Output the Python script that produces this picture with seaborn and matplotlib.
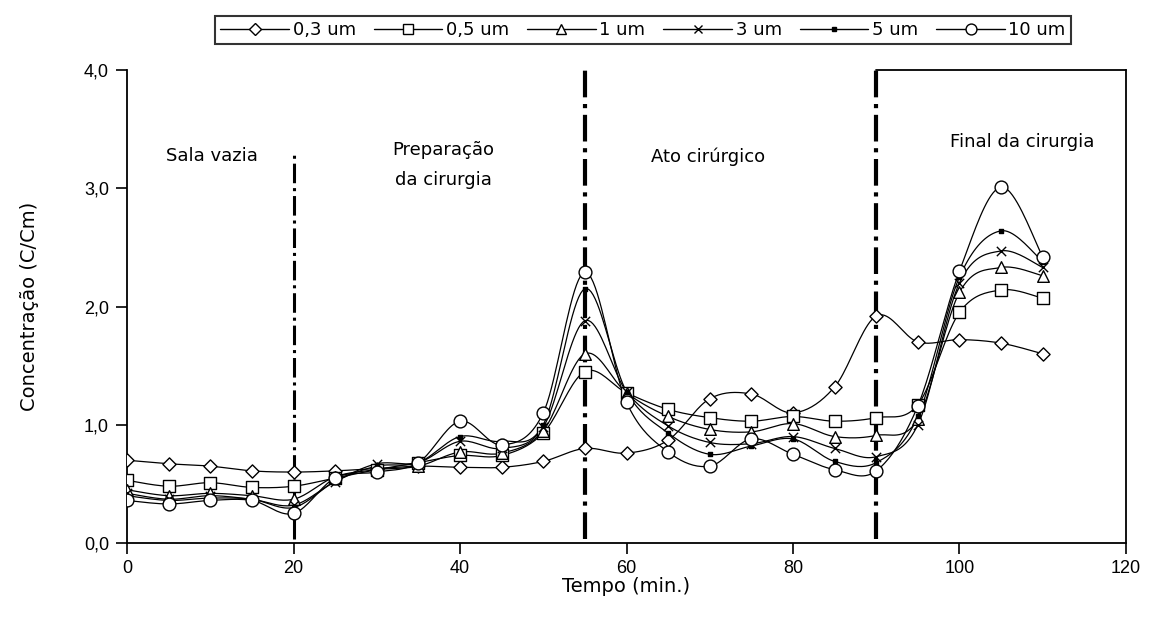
import numpy as np
import pandas as pd
import seaborn as sns
import matplotlib.pyplot as plt
from matplotlib.lines import Line2D
from matplotlib.ticker import FuncFormatter

tempo = [0, 5, 10, 15, 20, 25, 30, 35, 40, 45, 50, 55, 60, 65, 70, 75, 80, 85, 90, 95, 100, 105, 110]

um_03 = [0.70, 0.67, 0.65, 0.61, 0.60, 0.61, 0.63, 0.65, 0.64, 0.64, 0.69, 0.80, 0.76, 0.87, 1.22, 1.26, 1.10, 1.32, 1.92, 1.70, 1.72, 1.69, 1.60]
um_05 = [0.53, 0.48, 0.51, 0.47, 0.48, 0.55, 0.62, 0.68, 0.74, 0.74, 0.93, 1.45, 1.27, 1.13, 1.06, 1.03, 1.07, 1.03, 1.06, 1.17, 1.95, 2.14, 2.07]
um_1 = [0.45, 0.40, 0.42, 0.40, 0.37, 0.56, 0.62, 0.65, 0.77, 0.76, 0.95, 1.60, 1.27, 1.07, 0.96, 0.94, 1.01, 0.90, 0.91, 1.05, 2.12, 2.33, 2.26]
um_3 = [0.42, 0.37, 0.40, 0.37, 0.32, 0.52, 0.67, 0.68, 0.86, 0.80, 0.98, 1.88, 1.28, 0.99, 0.85, 0.84, 0.90, 0.80, 0.73, 1.00, 2.20, 2.47, 2.33]
um_5 = [0.40, 0.36, 0.38, 0.37, 0.30, 0.52, 0.65, 0.68, 0.90, 0.86, 1.00, 2.15, 1.28, 0.93, 0.75, 0.82, 0.88, 0.69, 0.68, 1.07, 2.25, 2.64, 2.38]
um_10 = [0.36, 0.33, 0.36, 0.36, 0.25, 0.55, 0.60, 0.68, 1.03, 0.83, 1.10, 2.29, 1.19, 0.77, 0.65, 0.88, 0.75, 0.62, 0.61, 1.16, 2.30, 3.01, 2.42]

series = ["0,3 um", "0,5 um", "1 um", "3 um", "5 um", "10 um"]
valores = [um_03, um_05, um_1, um_3, um_5, um_10]

fases = ["Sala vazia", "Preparação\nda cirurgia", "Ato cirúrgico", "Final da cirurgia"]
limites = [20, 55, 90]

sns.set_style("white")
plt.rcParams["font.family"] = ["Liberation Sans", "DejaVu Sans"]
plt.rcParams["text.color"] = "black"
plt.rcParams["axes.labelcolor"] = "black"
largo = ["DejaVu Sans"]

estilos = {
    "0,3 um": dict(marker="D", s=45, facecolor="white", edgecolor="black"),
    "0,5 um": dict(marker="s", s=70, facecolor="white", edgecolor="black"),
    "1 um": dict(marker="^", s=70, facecolor="white", edgecolor="black"),
    "3 um": dict(marker="x", s=45, color="black"),
    "5 um": dict(marker="s", s=12, facecolor="black", edgecolor="black"),
    "10 um": dict(marker="o", s=85, facecolor="white", edgecolor="black"),
}


def suavizar(x, y, n=20):
    # curva suave tipo Excel (Catmull-Rom)
    x = np.asarray(x, float)
    y = np.asarray(y, float)
    px = np.concatenate([[x[0]], x, [x[-1]]])
    py = np.concatenate([[y[0]], y, [y[-1]]])
    xs, ys = [], []
    t = np.linspace(0, 1, n, endpoint=False)
    for i in range(1, len(px) - 2):
        for p, out in ((px, xs), (py, ys)):
            p0, p1, p2, p3 = p[i - 1], p[i], p[i + 1], p[i + 2]
            out.extend(0.5 * (2 * p1 + (-p0 + p2) * t + (2 * p0 - 5 * p1 + 4 * p2 - p3) * t ** 2
                              + (-p0 + 3 * p1 - 3 * p2 + p3) * t ** 3))
    xs.append(x[-1])
    ys.append(y[-1])
    return np.array(xs), np.array(ys)


fig = plt.figure(figsize=(11.5, 6.21), dpi=100)
ax = fig.add_axes([127 / 1150, 1 - 543 / 621, 999 / 1150, 473 / 621])

for nome, vals in zip(series, valores):
    xs, ys = suavizar(tempo, vals)
    sns.lineplot(x=xs, y=ys, ax=ax, color="black", lw=0.9, sort=False, estimator=None)
    df = pd.DataFrame({"tempo": tempo, "c": vals})
    sns.scatterplot(data=df, x="tempo", y="c", ax=ax, linewidth=1.0, zorder=3, **estilos[nome])

for i, lim in enumerate(limites):
    topo = 0.82 if i == 0 else 1.0
    ax.axvline(lim, ymin=0.008, ymax=topo, color="black", ls="-.", lw=2.2 if i == 0 else 3.0, zorder=1)

pos_texto = [(10.2, 3.27), (38, 3.2), (69.8, 3.27), (107.5, 3.39)]
for txt, (xt, yt) in zip(fases, pos_texto):
    ax.text(xt, yt, txt, ha="center", va="center", fontsize=13, family=largo, linespacing=1.85)

ax.set_xlim(0, 120)
ax.set_ylim(0, 4)
ax.set_xticks(range(0, 121, 20))
ax.set_yticks(np.arange(0, 4.01, 1))
ax.yaxis.set_major_formatter(FuncFormatter(lambda v, p: f"{v:.1f}".replace(".", ",")))
ax.tick_params(axis="both", bottom=True, left=True, direction="out", length=8, width=1.2,
               labelsize=13, color="black", labelcolor="black")
ax.tick_params(axis="x", pad=4)
ax.tick_params(axis="y", pad=5)

for lado in ["left", "bottom", "right"]:
    ax.spines[lado].set_color("black")
    ax.spines[lado].set_linewidth(1.3)
ax.spines["top"].set_visible(False)
ax.axhline(4, xmin=0.75, xmax=1.0, color="black", lw=1.3, clip_on=False)

ax.set_xlabel("Tempo (min.)", fontsize=14, family=largo, labelpad=0)
ax.set_ylabel("Concentração (C/Cm)", fontsize=14, family=largo, labelpad=32)

handles = []
for nome in series:
    e = estilos[nome]
    handles.append(Line2D([], [], color="black", lw=1.0, marker=e["marker"],
                          markersize=np.sqrt(e["s"]) * 0.85,
                          markerfacecolor=e.get("facecolor", "black"),
                          markeredgecolor="black"))
leg = fig.legend(handles, series, loc="center", bbox_to_anchor=(643 / 1150, 1 - 30 / 621), ncol=6,
                 frameon=True, fancybox=False, handlelength=3.8, handletextpad=0.2, columnspacing=1.0,
                 borderpad=0.3, prop={"family": largo, "size": 13})
leg.get_frame().set_edgecolor("black")
leg.get_frame().set_linewidth(1.5)

plt.savefig("out.png", dpi=100)
